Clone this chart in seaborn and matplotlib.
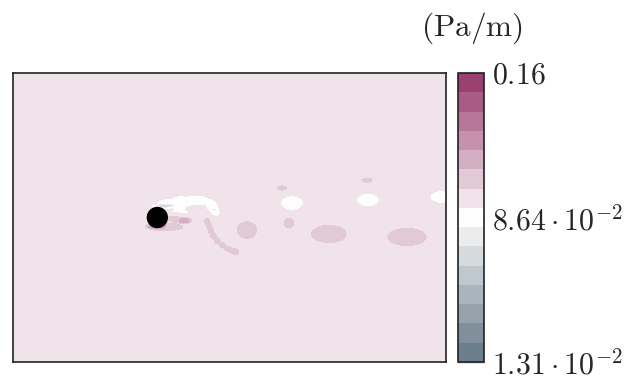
import numpy as np
import matplotlib
matplotlib.use("Agg")
import matplotlib.pyplot as plt
from matplotlib.colors import ListedColormap, BoundaryNorm
from matplotlib.patches import Circle
import seaborn as sns

sns.set_style("white")
plt.rcParams["mathtext.fontset"] = "cm"
plt.rcParams["font.family"] = ["DejaVu Serif"]

# ---- data ----
x_range = [-10.0, 20.0]
y_range = [-10.0, 10.0]
base_value = 0.096            # far-field magnitude (Pa/m)
# flow structures: centre x, centre y, half width, half height, amplitude
blob_x   = [11.89, 17.30, 9.12, 6.21, 8.64, 14.53,
            9.33, 14.59, 19.65,
            0.53, 1.57, 2.75, 3.79, 4.06, 1.57,
            0.39, 1.43, 1.92, 0.53, -0.16,
            3.44, 3.58, 3.72, 3.90, 4.15, 4.50, 4.85, 5.20, 5.45]
blob_y   = [-1.14, -1.35, -0.38, -0.87, 2.04, 2.59,
            1.00, 1.21, 1.42,
            0.90, 1.05, 1.18, 0.80, 0.38, 0.30,
            0.80, -0.04, -0.24, -0.66, -0.59,
            -0.24, -0.60, -0.95, -1.30, -1.62, -1.92, -2.15, -2.30, -2.38]
blob_sx  = [1.25, 1.39, 0.35, 0.70, 0.30, 0.35,
            0.84, 0.84, 0.77,
            0.60, 0.75, 0.88, 0.45, 0.32, 0.75,
            0.83, 0.83, 0.42, 1.25, 0.55,
            0.24, 0.24, 0.24, 0.24, 0.24, 0.26, 0.26, 0.26, 0.24]
blob_sy  = [0.62, 0.62, 0.35, 0.60, 0.15, 0.15,
            0.53, 0.50, 0.46,
            0.40, 0.48, 0.40, 0.45, 0.32, 0.32,
            0.15, 0.35, 0.17, 0.25, 0.18,
            0.24, 0.24, 0.24, 0.24, 0.24, 0.22, 0.22, 0.22, 0.22]
blob_amp = [0.012, 0.012, 0.012, 0.012, 0.012, 0.012,
            -0.010, -0.010, -0.010,
            -0.010, -0.010, -0.010, -0.010, -0.010, -0.008,
            -0.018, 0.010, 0.014, 0.014, 0.018,
            0.0075, 0.0075, 0.0075, 0.0075, 0.0075, 0.0075, 0.0075, 0.0075, 0.0075]
cylinder_x, cylinder_y, cylinder_r = 0.0, 0.0, 0.69
vmin, vmax = 0.0131, 0.16
n_bands = 15
cbar_ticks = [0.0131, 0.0866, 0.16]
cbar_labels = [r"$1.31\cdot10^{-2}$", r"$8.64\cdot10^{-2}$", r"$0.16$"]
unit_label = r"$(\mathrm{Pa/m})$"

# ---- field ----
xs = np.linspace(x_range[0], x_range[1], 1000)
ys = np.linspace(y_range[0], y_range[1], 700)
X, Y = np.meshgrid(xs, ys)
Z = np.full_like(X, base_value)
for bx, by, sx, sy, a in zip(blob_x, blob_y, blob_sx, blob_sy, blob_amp):
    r2 = ((X - bx) / sx) ** 2 + ((Y - by) / sy) ** 2
    Z += a * np.exp(-r2 ** 2)
Z = np.clip(Z, vmin + 1e-6, vmax - 1e-6)

colors = sns.blend_palette(["#6c7d8c", "#ffffff", "#9a4171"], n_colors=n_bands)
cmap = ListedColormap(colors)
levels = np.linspace(vmin, vmax, n_bands + 1)
norm = BoundaryNorm(levels, cmap.N)

fig = plt.figure(figsize=(6.37, 3.79), dpi=100)
W, H = 637, 379
ax = fig.add_axes([13 / W, 17 / H, 433 / W, 289 / H])
cs = ax.contourf(X, Y, Z, levels=levels, cmap=cmap, norm=norm)
ax.add_patch(Circle((cylinder_x, cylinder_y), cylinder_r, color="black", zorder=5))
ax.set_xlim(x_range)
ax.set_ylim(y_range)
ax.set_xticks([])
ax.set_yticks([])
for s in ax.spines.values():
    s.set_color("#222222")
    s.set_linewidth(1.2)

cax = fig.add_axes([458 / W, 17 / H, 26 / W, 289 / H])
cb = fig.colorbar(cs, cax=cax, ticks=cbar_ticks)
cb.ax.set_yticklabels(cbar_labels)
cb.ax.tick_params(direction="in", length=26 * 0.72, width=1.0, color="#888888",
                  labelsize=21.5, pad=6)
cb.outline.set_edgecolor("#222222")
cb.outline.set_linewidth(1.2)
cb.ax.minorticks_off()

fig.text(472 / W, 1 - 28 / H, unit_label, ha="center", va="center", fontsize=22.5)

fig.savefig("out.png", dpi=100)
